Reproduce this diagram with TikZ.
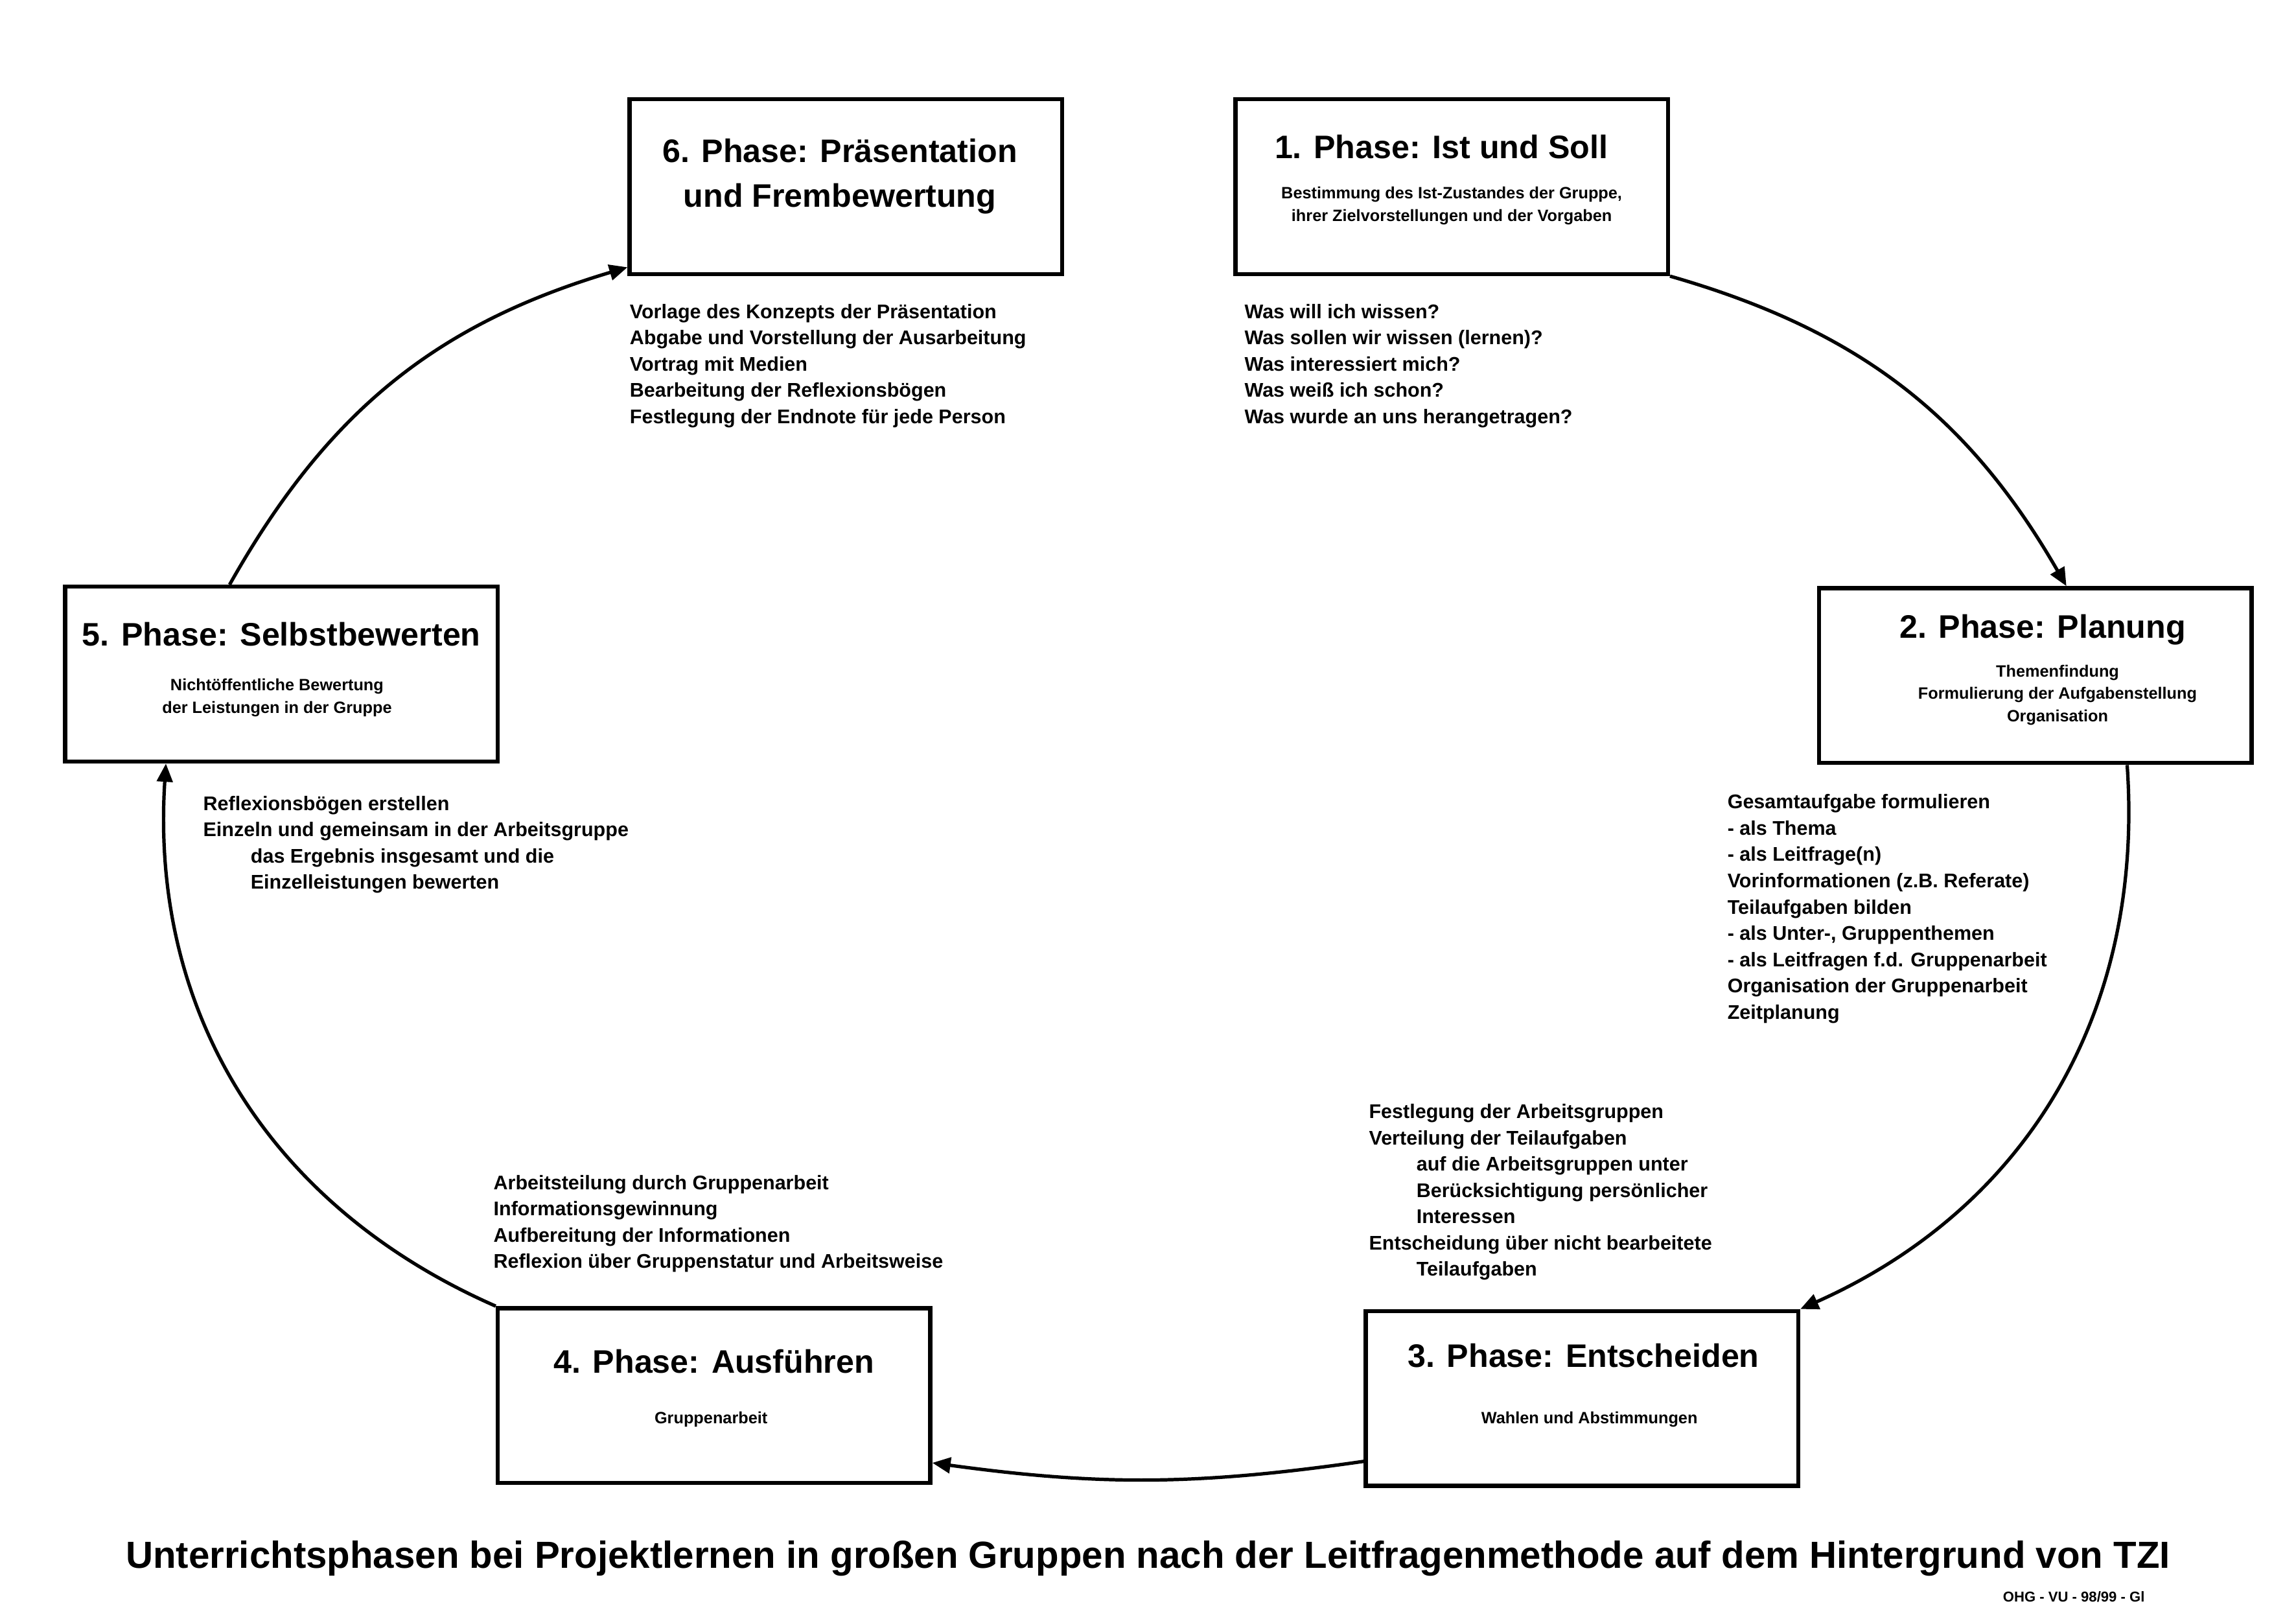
\documentclass[tikz,border=0pt]{standalone}
\usepackage{fontspec}
\setmainfont{Liberation Sans}
\usetikzlibrary{arrows.meta}
\begin{document}
\begin{tikzpicture}[x=0.02cm,y=-0.02cm,
    phase/.style={draw,line width=1.6pt,minimum width=5.84cm,minimum height=2.36cm},
    head/.style={align=center,font=\fontsize{12.5}{17}\selectfont\bfseries},
    sub/.style={align=center,font=\fontsize{6.3}{8.6}\selectfont\bfseries},
    flow/.style={line width=1.3pt,-{Triangle[length=7pt,width=6pt]}},
    list/.style={anchor=north west,align=left,font=\fontsize{7.6}{10.1}\selectfont\bfseries}]
  \useasboundingbox (0,0) rectangle (1550,1085);
  % phase boxes
  \node[phase] at (980,126) (P1) {};
  \node[phase] at (1374,456) (P2) {};
  \node[phase] at (1068,944) (P3) {};
  \node[phase] at (482,942) (P4) {};
  \node[phase] at (190,455) (P5) {};
  \node[phase] at (571,126) (P6) {};
  % headings
  \node[head] at (973,99) (H1) {1. Phase: Ist und Soll};
  \node[sub] at (980,139) (S1) {Bestimmung des Ist-Zustandes der Gruppe,\\ ihrer Zielvorstellungen und der Vorgaben};
  \node[head] at (1379,425) (H2) {2. Phase: Planung};
  \node[sub] at (1389,469) (S2) {Themenfindung\\ Formulierung der Aufgabenstellung\\ Organisation};
  \node[head] at (1069,915) (H3) {3. Phase: Entscheiden};
  \node[sub] at (1073,958) (S3) {Wahlen und Abstimmungen};
  \node[head] at (482,919) (H4) {4. Phase: Ausführen};
  \node[sub] at (480,958) (S4) {Gruppenarbeit};
  \node[head] at (190,428) (H5) {5. Phase: Selbstbewerten};
  \node[sub] at (187,471) (S5) {Nichtöffentliche Bewertung\\ der Leistungen in der Gruppe};
  \node[head] at (567,119) (H6) {6. Phase: Präsentation\\ und Frembewertung};
  % lists
  \node[list] at (834,199) (L1) {Was will ich wissen?\\ Was sollen wir wissen (lernen)?\\ Was interessiert mich?\\ Was weiß ich schon?\\ Was wurde an uns herangetragen?};
  \node[list] at (1160,530) (L2) {Gesamtaufgabe formulieren\\ - als Thema\\ - als Leitfrage(n)\\ Vorinformationen (z.B. Referate)\\ Teilaufgaben bilden\\ - als Unter-, Gruppenthemen\\ - als Leitfragen f.d. Gruppenarbeit\\ Organisation der Gruppenarbeit\\ Zeitplanung};
  \node[list] at (918,739) (L3) {Festlegung der Arbeitsgruppen\\ Verteilung der Teilaufgaben\\ \hspace*{2.4em}auf die Arbeitsgruppen unter\\ \hspace*{2.4em}Berücksichtigung persönlicher\\ \hspace*{2.4em}Interessen\\ Entscheidung über nicht bearbeitete\\ \hspace*{2.4em}Teilaufgaben};
  \node[list] at (327,787) (L4) {Arbeitsteilung durch Gruppenarbeit\\ Informationsgewinnung\\ Aufbereitung der Informationen\\ Reflexion über Gruppenstatur und Arbeitsweise};
  \node[list] at (131,531) (L5) {Reflexionsbögen erstellen\\ Einzeln und gemeinsam in der Arbeitsgruppe\\ \hspace*{2.4em}das Ergebnis insgesamt und die\\ \hspace*{2.4em}Einzelleistungen bewerten};
  \node[list] at (419,199) (L6) {Vorlage des Konzepts der Präsentation\\ Abgabe und Vorstellung der Ausarbeitung\\ Vortrag mit Medien\\ Bearbeitung der Reflexionsbögen\\ Festlegung der Endnote für jede Person};
  % cycle
  \draw[flow] (P1.south east) to[bend left=22] ([xshift=0.42cm]P2.north);
  \draw[flow] ([xshift=1.24cm]P2.south) to[bend left=35] (P3.north east);
  \draw[flow] ([yshift=0.36cm]P3.south west) to[bend left=8] ([yshift=0.3cm]P4.south east);
  \draw[flow] (P4.north west) to[bend left=35] ([xshift=-1.56cm]P5.south);
  \draw[flow] ([xshift=-0.7cm]P5.north) to[bend left=22] ([yshift=0.12cm]P6.south west);
  % caption
  \node at (775,1052) (T) {\fontsize{14.5}{17}\selectfont\bfseries Unterrichtsphasen bei Projektlernen in großen Gruppen nach der Leitfragenmethode auf dem Hintergrund von TZI};
  \node at (1400,1078) (F) {\fontsize{5.5}{7}\selectfont\bfseries OHG - VU - 98/99 - Gl};
\end{tikzpicture}
\end{document}
